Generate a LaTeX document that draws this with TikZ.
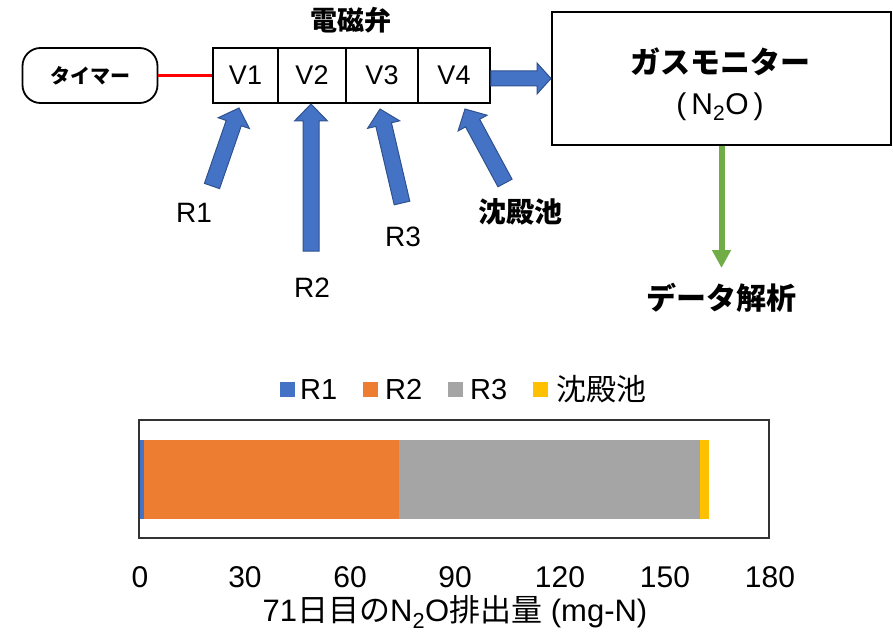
\documentclass[tikz,border=0pt]{standalone}
\usepackage{fontspec}
\setmainfont{Liberation Sans}
\newfontfamily\jp{Noto Sans CJK JP}
\usetikzlibrary{calc,arrows.meta}
\newcommand{\fs}[1]{\fontsize{#1}{#1}\selectfont}
\definecolor{bblue}{HTML}{4472C4}
\definecolor{bblueline}{HTML}{2F528F}
\definecolor{borange}{HTML}{ED7D31}
\definecolor{bgray}{HTML}{A5A5A5}
\definecolor{byellow}{HTML}{FFC000}
\definecolor{bgreen}{HTML}{70AD47}
% #1 tail, #2 tip, #3 half shaft width, #4 half head width, #5 head length
\newcommand{\blockarrow}[5]{%
  \path ($(#2)!#5!(#1)$) coordinate (bah);
  \draw[barrowstyle] ($(#1)!#3!90:(#2)$) -- ($(bah)!#3!90:(#2)$) -- ($(bah)!#4!90:(#2)$) -- (#2)
    -- ($(bah)!#4!-90:(#2)$) -- ($(bah)!#3!-90:(#2)$) -- ($(#1)!#3!-90:(#2)$) -- cycle;}
\begin{document}
\begin{tikzpicture}[x=1pt,y=-1pt,
  barrowstyle/.style={fill=bblue,draw=bblueline,line width=1},
  cell/.style={draw,line width=1.6,minimum height=55,inner sep=0,font=\fs{27}},
  lab/.style={font=\fs{28}},
  jpb/.style={font=\jp\bfseries\fs{#1}},
  axlab/.style={font=\fs{30}},
  leglab/.style={font=\fs{29},anchor=west,inner sep=0},
]
\useasboundingbox (0,0) rectangle (893,636);

% timer
\node[draw,line width=1.8,rounded corners=18,minimum width=135,minimum height=55,inner sep=0,jpb=20] (timer) at (90,75.5) {タイマー};

% valves
\node[cell,minimum width=65] (v1) at (245.5,75.5) {V1};
\node[cell,minimum width=68] (v2) at (312,75.5) {V2};
\node[cell,minimum width=72] (v3) at (382,75.5) {V3};
\node[cell,minimum width=72] (v4) at (454,75.5) {V4};
\node[jpb=27] (valvetitle) at (351,20) {電磁弁};

\draw[red,line width=3.6] (timer.east) -- (v1.west);

% gas monitor
\node[draw,line width=2,minimum width=339,minimum height=133,inner sep=0] (gm) at (721.5,78.5) {};
\node[jpb=30] (gmt) at (720,62) {ガスモニター};
\node[font=\fs{30}] (gmn) at (720,107) {(\,N\textsubscript{2}O\,)};

% valve -> monitor
\coordinate (vout) at (v4.east |- gm.west);
\blockarrow{vout}{gm.west}{7.5pt}{15.5pt}{14pt}

% inputs
\coordinate (r1tail) at (212,186); \coordinate (r1tip) at (239,108);
\coordinate (r2tail) at (311,251); \coordinate (r2tip) at (311,104);
\coordinate (r3tail) at (402,203); \coordinate (r3tip) at (380,109);
\coordinate (r4tail) at (505,183); \coordinate (r4tip) at (465,109);
\blockarrow{r1tail}{r1tip}{8pt}{16.5pt}{16pt}
\blockarrow{r2tail}{r2tip}{8pt}{16.5pt}{17pt}
\blockarrow{r3tail}{r3tip}{8pt}{16.5pt}{16pt}
\blockarrow{r4tail}{r4tip}{8pt}{16.5pt}{16pt}
\node[lab] (r1) at (194,213) {R1};
\node[lab] (r2) at (312,288) {R2};
\node[lab] (r3) at (403,237) {R3};
\node[jpb=28] (sed) at (520,212) {沈殿池};

% data analysis
\node[jpb=30] (data) at (721.5,298) {データ解析};
\coordinate (dtip) at (721.5,268);
\draw[bgreen,line width=6,-{Triangle[width=18pt,length=18pt]}] (gm.south) -- (dtip);

% legend
\fill[bblue] (280,382) rectangle (295,397);
\node[leglab] (lg1) at (300,389.5) {R1};
\fill[borange] (363,382) rectangle (378,397);
\node[leglab] (lg2) at (385,389.5) {R2};
\fill[bgray] (448,382) rectangle (463,397);
\node[leglab] (lg3) at (470,389.5) {R3};
\fill[byellow] (533,382) rectangle (548,397);
\node[anchor=west,font=\jp\fs{30},inner sep=0] (lg4) at (556,389.5) {沈殿池};

% chart
\fill[bblue] (139,440) rectangle (144,519);
\fill[borange] (144,440) rectangle (399,519);
\fill[bgray] (399,440) rectangle (700,519);
\fill[byellow] (700,440) rectangle (709,519);
\draw[black!80,line width=1.5] (139,420) rectangle (769,538);

\foreach \v [count=\i from 0] in {0,30,60,90,120,150,180}
  \node[axlab] at (140+105*\i,577) {\v};

\node[font=\fs{31}] (xtitle) at (455,612) {71{\jp 日目の}N\textsubscript{2}O{\jp 排出量} (mg-N)};
\end{tikzpicture}
\end{document}
